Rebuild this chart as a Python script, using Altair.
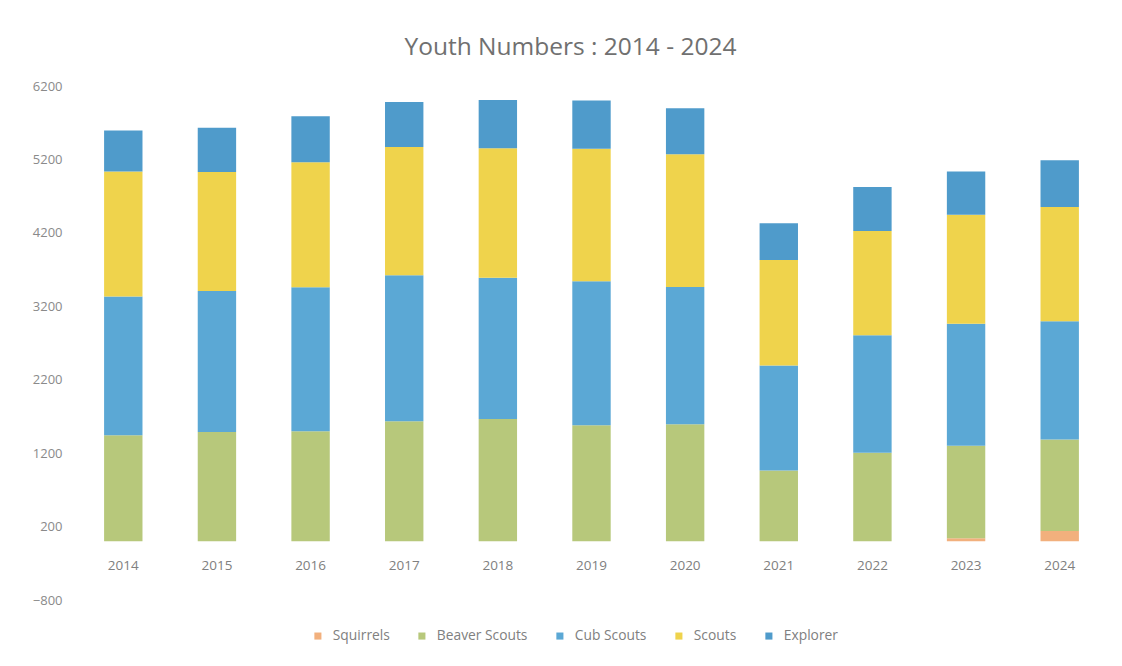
import altair as alt
import pandas as pd

years = ["2014", "2015", "2016", "2017", "2018", "2019", "2020", "2021", "2022", "2023", "2024"]
sections = ["Squirrels", "Beaver Scouts", "Cub Scouts", "Scouts", "Explorer"]
colors = ["#f2b07d", "#b7c87b", "#5ba8d5", "#efd34c", "#4f9bcb"]

squirrels = [0, 0, 0, 0, 0, 0, 0, 0, 0, 40, 140]
beavers = [1444, 1487, 1497, 1633, 1664, 1580, 1592, 963, 1207, 1259, 1245]
cubs = [1890, 1921, 1961, 1989, 1926, 1961, 1872, 1430, 1599, 1662, 1611]
scouts = [1703, 1620, 1703, 1748, 1761, 1806, 1806, 1438, 1420, 1485, 1557]
explorers = [558, 605, 626, 613, 658, 654, 626, 500, 600, 589, 636]

y_ticks = [-800, 200, 1200, 2200, 3200, 4200, 5200, 6200]

series = [squirrels, beavers, cubs, scouts, explorers]
rows = []
for si, (name, vals) in enumerate(zip(sections, series)):
    for y, v in zip(years, vals):
        rows.append({"year": y, "section": name, "value": v, "idx": si})
df = pd.DataFrame(rows)

FONT = "Open Sans"

chart = (
    alt.Chart(df)
    .mark_bar()
    .encode(
        x=alt.X(
            "year:N",
            sort=years,
            title=None,
            scale=alt.Scale(paddingInner=0.59, paddingOuter=0.3),
            axis=alt.Axis(
                labelAngle=0,
                domain=False,
                ticks=False,
                offset=-52,
                labelPadding=10,
                labelColor="#808080",
                labelFontSize=13.5,
                labelFont=FONT,
            ),
        ),
        y=alt.Y(
            "value:Q",
            stack="zero",
            title=None,
            scale=alt.Scale(domain=[-800, 6200], nice=False, zero=False),
            axis=alt.Axis(
                values=y_ticks,
                format="d",
                grid=False,
                domain=False,
                ticks=False,
                labelPadding=14,
                labelColor="#8a8a8a",
                labelFontSize=13,
                labelFont=FONT,
            ),
        ),
        color=alt.Color(
            "section:N",
            scale=alt.Scale(domain=sections, range=colors),
            legend=alt.Legend(
                title=None,
                orient="none",
                direction="horizontal",
                legendX=235,
                legendY=543,
                symbolType="square",
                symbolSize=50,
                symbolStrokeWidth=0,
                labelFontSize=13.8,
                labelColor="#808080",
                labelFont=FONT,
                columnPadding=25,
                labelOffset=8,
            ),
        ),
        order=alt.Order("idx:Q", sort="ascending"),
    )
    .properties(
        width=1031,
        height=514,
        autosize=alt.AutoSizeParams(type="none"),
        padding={"left": 68, "top": 78, "right": 5, "bottom": 60},
        title=alt.TitleParams(
            "Youth Numbers : 2014 - 2024",
            anchor="middle",
            dx=-21,
            offset=20,
            fontSize=24.5,
            font=FONT,
            fontWeight="normal",
            color="#707070",
        ),
    )
    .configure_view(stroke=None)
)

chart.save("out.html", embed_options={"renderer": "svg", "actions": False})
